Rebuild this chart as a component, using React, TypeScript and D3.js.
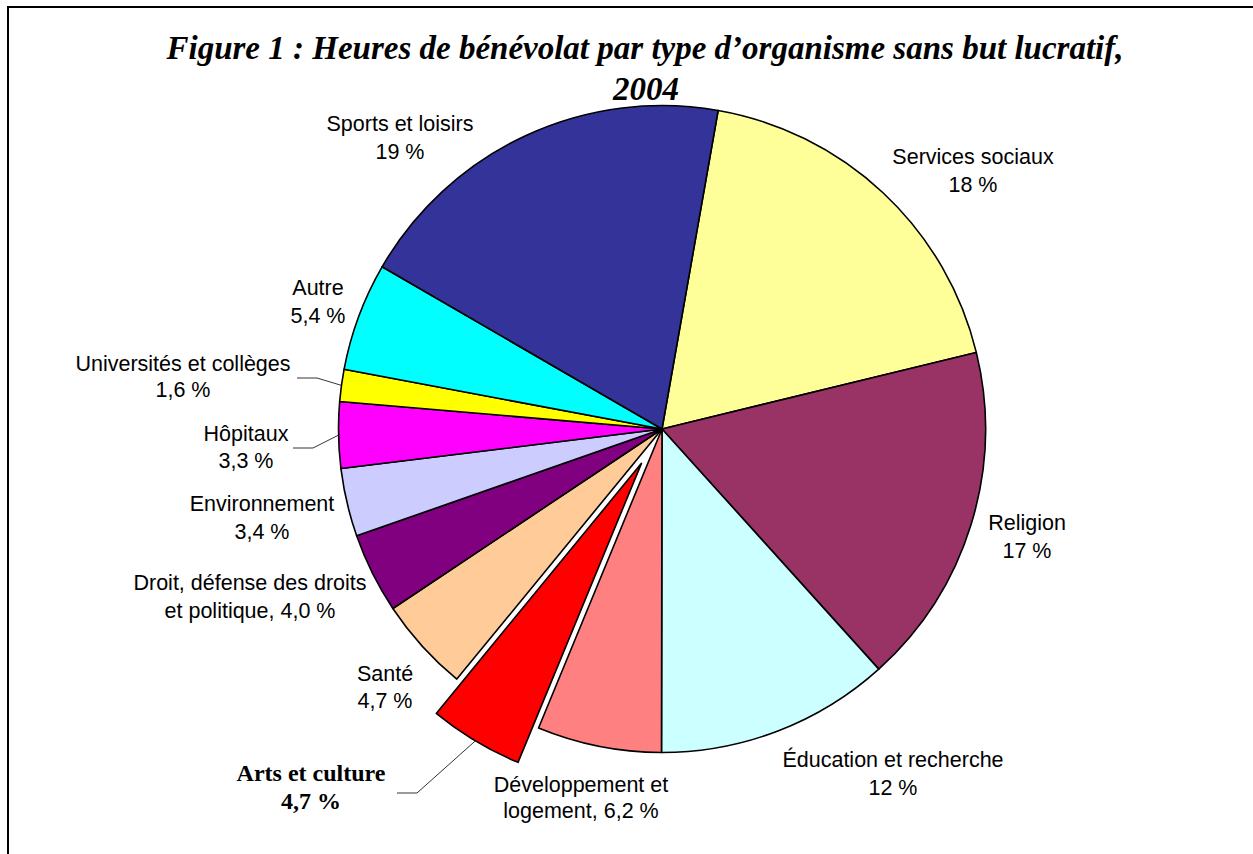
import React from 'react';
import * as d3 from 'd3';

// Volunteer hours by type of non-profit organisation, 2004 (clockwise from ~10°)
const categories = [
  'Services sociaux',
  'Religion',
  'Éducation et recherche',
  'Développement et logement',
  'Arts et culture',
  'Santé',
  'Droit, défense des droits et politique',
  'Environnement',
  'Hôpitaux',
  'Universités et collèges',
  'Autre',
  'Sports et loisirs',
];
const shares = [18.4, 17.1, 11.7, 6.2, 4.7, 4.7, 4.0, 3.4, 3.3, 1.6, 5.4, 19.4];
const labelLines = [
  ['Services sociaux', '18 %'],
  ['Religion', '17 %'],
  ['Éducation et recherche', '12 %'],
  ['Développement et', 'logement, 6,2 %'],
  ['Arts et culture', '4,7 %'],
  ['Santé', '4,7 %'],
  ['Droit, défense des droits', 'et politique, 4,0 %'],
  ['Environnement', '3,4 %'],
  ['Hôpitaux', '3,3 %'],
  ['Universités et collèges', '1,6 %'],
  ['Autre', '5,4 %'],
  ['Sports et loisirs', '19 %'],
];
const colors = [
  '#FFFF99', '#993366', '#CCFFFF', '#FF8080', '#FF0000', '#FFCC99',
  '#800080', '#CCCCFF', '#FF00FF', '#FFFF00', '#00FFFF', '#333399',
];
const explodedIndex = 4;

// label placement (text centre x, first baseline y, line gap)
const labelPos: [number, number, number][] = [
  [973, 164, 28],
  [1027, 530, 28],
  [893, 767, 28],
  [581, 792, 26],
  [311, 781, 28],
  [385, 681, 27],
  [250, 590, 28],
  [262, 511, 28],
  [246, 441, 27],
  [183, 371, 26],
  [318, 295, 28],
  [400, 131, 28],
];
// leader line elbows (label side) for the small slices
const leaders: { index: number; pts: [number, number][] }[] = [
  { index: 9, pts: [[297, 378], [317, 378]] },
  { index: 8, pts: [[293, 448], [313, 448]] },
  { index: 4, pts: [[397, 793], [417, 793]] },
];

const W = 1253;
const H = 854;
const cx = 662;
const cy = 429;
const R = 323.5;
const explode = 40;
const startDeg = 10;

const App: React.FC = () => {
  const pie = d3
    .pie<number>()
    .sort(null)
    .value((d) => d)
    .startAngle((startDeg * Math.PI) / 180)
    .endAngle((startDeg * Math.PI) / 180 + 2 * Math.PI);
  const arcs = pie(shares);
  const arc = d3.arc<d3.PieArcDatum<number>>().innerRadius(0).outerRadius(R);

  const offsetOf = (i: number): [number, number] => {
    if (i !== explodedIndex) return [0, 0];
    const a = (arcs[i].startAngle + arcs[i].endAngle) / 2;
    return [Math.sin(a) * explode, -Math.cos(a) * explode];
  };

  const line = d3.line();

  const sans = 'Arial, "Liberation Sans", sans-serif';
  const serif = '"Palatino Linotype", "Book Antiqua", Palatino, "Liberation Serif", serif';

  return (
    <svg
      width={W}
      height={H}
      style={{ position: 'fixed', left: 0, top: 0, background: '#fff' }}
    >
      <rect x={0} y={0} width={W} height={H} fill="#fff" />
      <rect x={8} y={7} width={W + 20} height={H + 20} fill="none" stroke="#000" strokeWidth={2} />

      <g fontFamily={serif} fontWeight="bold" fontStyle="italic" fontSize={33} textAnchor="middle">
        <text x={645} y={59}>Figure 1 : Heures de bénévolat par type d’organisme sans but lucratif,</text>
        <text x={646} y={100}>2004</text>
      </g>

      <g transform={`translate(${cx},${cy})`}>
        {arcs.map((d, i) => {
          const [ox, oy] = offsetOf(i);
          return (
            <path
              key={categories[i]}
              d={arc(d) || ''}
              transform={`translate(${ox},${oy})`}
              fill={colors[i]}
              stroke="#000"
              strokeWidth={1.6}
              strokeLinejoin="round"
            />
          );
        })}
      </g>

      {leaders.map(({ index, pts }) => {
        const d = arcs[index];
        const a = (d.startAngle + d.endAngle) / 2;
        const [ox, oy] = offsetOf(index);
        const end: [number, number] = [cx + ox + Math.sin(a) * R, cy + oy - Math.cos(a) * R];
        return (
          <path
            key={'l' + index}
            d={line([...pts, end]) || ''}
            fill="none"
            stroke="#000"
            strokeWidth={0.8}
          />
        );
      })}

      {labelLines.map((lines, i) => {
        const [x, y, gap] = labelPos[i];
        const bold = i === explodedIndex;
        return (
          <text
            key={'t' + i}
            x={x}
            y={y}
            textAnchor="middle"
            fontFamily={bold ? serif : sans}
            fontWeight={bold ? 'bold' : 'normal'}
            fontSize={bold ? 24 : 21.5}
            fill="#000"
          >
            {lines.map((s, k) => (
              <tspan key={k} x={x} dy={k === 0 ? 0 : gap}>
                {s}
              </tspan>
            ))}
          </text>
        );
      })}
    </svg>
  );
};

export default App;
